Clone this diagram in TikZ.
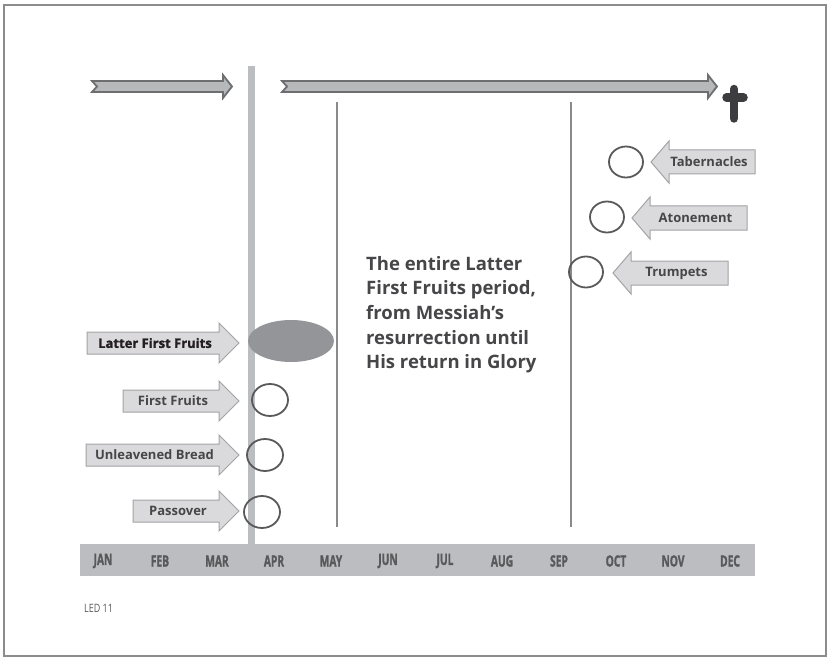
\documentclass[tikz,border=0pt]{standalone}
\usepackage{fontspec}
\setmainfont{Open Sans}
\newfontfamily\heavyfont[BoldFeatures={FakeBold=1.6}]{Open Sans}
\usetikzlibrary{shapes.geometric}
\definecolor{framegray}{HTML}{8C8C8E}
\definecolor{evfill}{HTML}{DADADC}
\definecolor{evline}{HTML}{A3A3A5}
\definecolor{evtextc}{HTML}{464648}
\definecolor{darktext}{HTML}{231F20}
\definecolor{ringc}{HTML}{59595B}
\definecolor{ovalc}{HTML}{939598}
\definecolor{barc}{HTML}{BCBDC0}
\definecolor{thinc}{HTML}{8A8A8C}
\definecolor{topfill}{HTML}{B7B8BA}
\definecolor{topline}{HTML}{6D6E71}
\definecolor{crossc}{HTML}{3D3D3F}
\definecolor{monthc}{HTML}{58595B}
\tikzset{
  evshape/.style={fill=evfill, draw=evline, line width=1pt, line join=miter},
  evtext/.style={inner sep=0pt, font=\fontsize{13}{15}\selectfont\bfseries, text=evtextc},
  ring/.style={ellipse, draw=ringc, line width=1.8pt, inner sep=0pt},
  topshape/.style={fill=topfill, draw=topline, line width=1.8pt, line join=miter},
  monthlbl/.style={inner sep=0pt, font=\fontsize{15.5}{17}\selectfont\heavyfont\bfseries, text=monthc, xscale=0.66},
  thinline/.style={draw=thinc, line width=1.5pt},
}
% right-pointing event arrow: name, left x, tip x, y, text, text style
\newcommand\rarrowev[6]{%
  \draw[evshape] (#2,#4-11) -- (#3-20,#4-11) -- (#3-20,#4-20) -- (#3,#4) -- (#3-20,#4+20) -- (#3-20,#4+11) -- (#2,#4+11) -- cycle;
  \node[evtext,#6] (#1) at ({(#2+#3-20)/2+2},#4) {#5};}
% left-pointing event arrow: name, tip x, right x, y, text
\newcommand\larrowev[5]{%
  \draw[evshape] (#3,#4-12) -- (#2+18,#4-12) -- (#2+18,#4-21) -- (#2,#4) -- (#2+18,#4+21) -- (#2+18,#4+12) -- (#3,#4+12) -- cycle;
  \node[evtext] (#1) at ({(#2+18+#3)/2-3},#4) {#5};}
\begin{document}
\begin{tikzpicture}[x=1pt,y=-1pt]
\useasboundingbox (0,0) rectangle (828,658);
% frame
\draw[framegray, line width=2.5pt] (4,5) rectangle (826,656);
% vertical thick bar
\fill[barc] (248,66) rectangle (255,545);
% thin lines
\draw[thinline] (337,102) -- (337,527);
\draw[thinline] (571,102) -- (571,527);
% top arrows
\draw[topshape] (92,81) -- (223,81) -- (223,75) -- (232,86.5) -- (223,98) -- (223,92) -- (92,92) -- (97,86.5) -- cycle;
\draw[topshape] (282,81) -- (708,81) -- (708,75) -- (717,86.5) -- (708,98) -- (708,92) -- (282,92) -- (287,86.5) -- cycle;
% cross
\draw[crossc, line width=8.5pt, line cap=round] (734,89) -- (734,118.5);
\draw[crossc, line width=8.5pt, line cap=round] (726.5,97.5) -- (743.5,97.5);
% month bar
\fill[barc] (80,544) rectangle (755,576);
\foreach \m [count=\i from 0] in {JAN,FEB,MAR,APR,MAY,JUN,JUL,AUG,SEP,OCT,NOV,DEC}{
  \node[monthlbl] (m\i) at (103+57*\i,561) {\m};
}
% left events
\rarrowev{lff}{87}{239}{343}{Latter First Fruits}{text=darktext, font=\fontsize{13}{15}\selectfont\heavyfont\bfseries}
\rarrowev{ff}{123}{239}{401}{First Fruits}{}
\rarrowev{ub}{86}{239}{455}{Unleavened Bread}{}
\rarrowev{po}{133}{239}{511}{Passover}{}
\node[ellipse, fill=ovalc, minimum width=86pt, minimum height=42pt, inner sep=0pt] (lffo) at (291,341) {};
\node[ring, minimum width=36pt, minimum height=32pt] (ffc) at (270,400) {};
\node[ring, minimum width=36pt, minimum height=32pt] (ubc) at (265,455) {};
\node[ring, minimum width=36pt, minimum height=32pt] (poc) at (262,512) {};
% right events
\larrowev{tab}{651}{755}{162}{Tabernacles}
\larrowev{ato}{632}{747}{218}{Atonement}
\larrowev{tru}{613}{728}{273}{Trumpets}
\node[ring, minimum width=34pt, minimum height=31pt] (tabc) at (626,162) {};
\node[ring, minimum width=34pt, minimum height=31pt] (atoc) at (607,217) {};
\node[ring, minimum width=34pt, minimum height=31pt] (truc) at (586,272) {};
% central text
\node[anchor=north west, inner sep=0pt, align=left, text=evtextc,
      font=\fontsize{18.5}{24.6}\selectfont\bfseries] (period) at (366,256)
  {The entire Latter\\First Fruits period,\\from Messiah’s\\resurrection until\\His return in Glory};
% footer
\node[anchor=west, inner sep=0pt, font=\fontsize{11.5}{13}\selectfont, text=monthc, xscale=0.78] (led) at (84,608.5) {LED 11};
\end{tikzpicture}
\end{document}
